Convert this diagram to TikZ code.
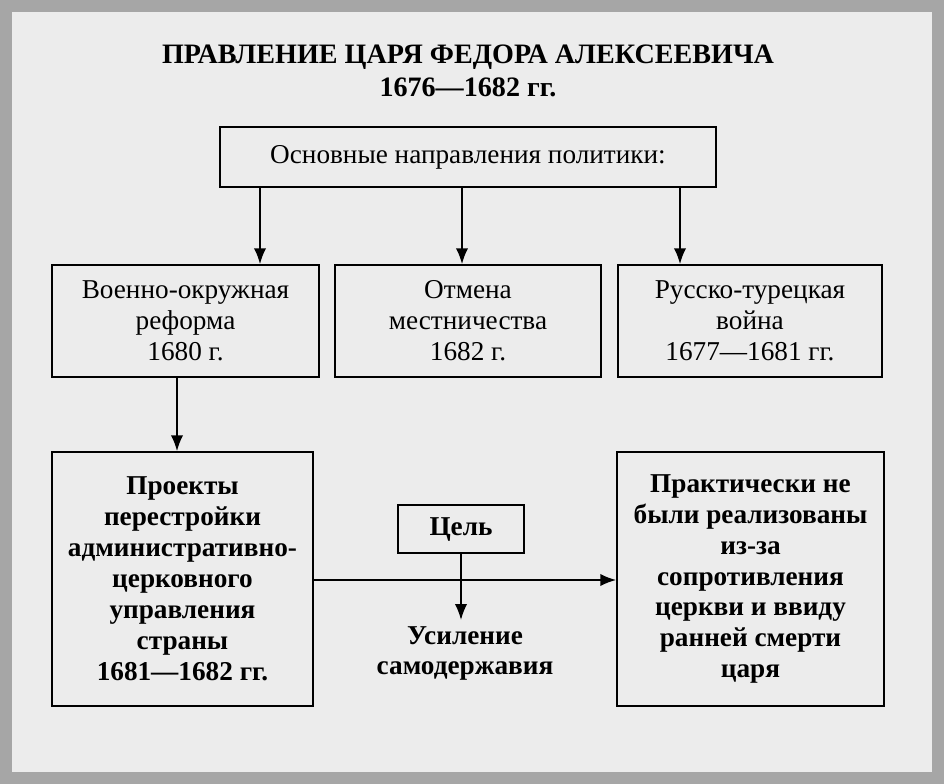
\documentclass[tikz,border=0pt]{standalone}
\usepackage{fontspec}
\setmainfont{Liberation Serif}
\usetikzlibrary{arrows.meta}
\begin{document}
\begin{tikzpicture}[x=0.02cm,y=-0.02cm,
  box/.style={draw,line width=1pt,fill=none,align=center,inner sep=0pt,font=\fontsize{15.5}{17.6}\selectfont},
  bbox/.style={box,font=\fontsize{15.5}{17.6}\selectfont\bfseries},
  arr/.style={line width=1pt,-{Latex[length=9pt,width=7pt]}}]
\fill[gray!70] (0,0) rectangle (944,784);
\fill[gray!15] (12,12) rectangle (932,772);
\useasboundingbox (0,0) rectangle (944,784);
\node[font=\fontsize{16}{18.5}\selectfont\bfseries,align=center] (title) at (468,71) {ПРАВЛЕНИЕ ЦАРЯ ФЕДОРА АЛЕКСЕЕВИЧА\\1676—1682 гг.};
\node[box,minimum width=9.92cm,minimum height=1.2cm] (top) at (468,157) {Основные направления политики:};
\node[box,minimum width=5.34cm,minimum height=2.24cm] (b1) at (185.5,321) {Военно-окружная\\реформа\\1680 г.};
\node[box,minimum width=5.32cm,minimum height=2.24cm] (b2) at (468,321) {Отмена\\местничества\\1682 г.};
\node[box,minimum width=5.28cm,minimum height=2.24cm] (b3) at (750,321) {Русско-турецкая\\война\\1677—1681 гг.};
\node[bbox,minimum width=5.22cm,minimum height=5.08cm] (b4) at (182.5,579) {Проекты\\перестройки\\административно-\\церковного\\управления\\страны\\1681—1682 гг.};
\node[bbox,minimum width=2.52cm,minimum height=0.96cm] (goal) at (461,529) {Цель};
\node[bbox,minimum width=5.34cm,minimum height=5.08cm] (b5) at (750.5,579) {Практически не\\были реализованы\\из-за\\сопротивления\\церкви и ввиду\\ранней смерти\\царя};
\node[font=\fontsize{15.5}{17.6}\selectfont\bfseries,align=center,anchor=north] (res) at (465,620) {Усиление\\самодержавия};
\draw[arr] (top.south -| 260,0) -- (b1.north -| 260,0);
\draw[arr] (top.south -| 462,0) -- (b2.north -| 462,0);
\draw[arr] (top.south -| 680,0) -- (b3.north -| 680,0);
\draw[arr] (b1.south -| 177,0) -- (b4.north -| 177,0);
\draw[arr] (b4.east |- 0,580) -- (b5.west |- 0,580);
\draw[arr] (goal.south) -- (goal.south |- res.north);
\end{tikzpicture}
\end{document}
